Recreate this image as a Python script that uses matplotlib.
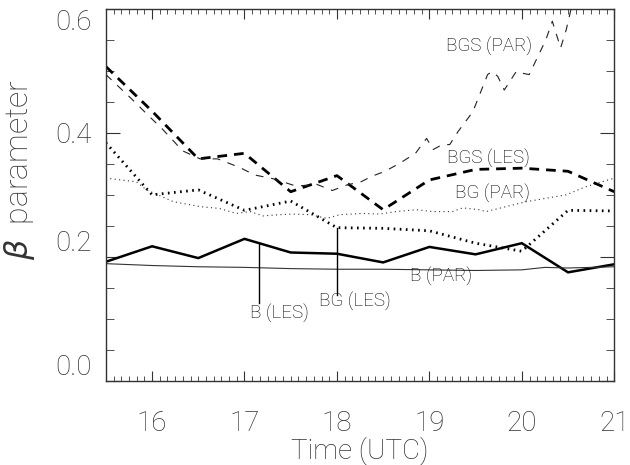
import matplotlib
matplotlib.use('Agg')
import matplotlib.pyplot as plt
import numpy as np
from matplotlib.ticker import MultipleLocator

plt.rcParams['font.family'] = ['Roboto', 'DejaVu Sans']
plt.rcParams['font.weight'] = 'light'
plt.rcParams['axes.labelweight'] = 'light'
plt.rcParams['mathtext.fontset'] = 'custom'
plt.rcParams['mathtext.it'] = 'DejaVu Sans:italic:light'

# LES values every half hour
t_les = [15.5, 16.0, 16.5, 17.0, 17.5, 18.0, 18.5, 19.0, 19.5, 20.0, 20.5, 21.0]
b_les = [0.192, 0.217, 0.198, 0.229, 0.207, 0.205, 0.191, 0.216, 0.204, 0.222, 0.175, 0.188]
bg_les = [0.384, 0.300, 0.308, 0.275, 0.290, 0.247, 0.246, 0.242, 0.222, 0.209, 0.275, 0.274]
bgs_les = [0.507, 0.435, 0.358, 0.367, 0.305, 0.331, 0.276, 0.324, 0.341, 0.343, 0.338, 0.305]

# parameterisation
t_b_par = [15.5, 16.0, 16.5, 17.0, 17.5, 18.0, 18.5, 19.0, 19.5, 20.0, 20.25, 20.5, 21.0]
b_par = [0.189, 0.186, 0.184, 0.183, 0.181, 0.180, 0.180, 0.179, 0.178, 0.179, 0.183, 0.182, 0.184]

t_bg_par = [15.5, 15.83, 15.94, 16.23, 16.52, 16.73, 16.91, 17.06, 17.20, 17.38, 17.52,
            17.71, 17.89, 18.03, 18.28, 18.46, 18.64, 18.86, 19.04, 19.25, 19.36, 19.54,
            19.61, 20.05, 20.48, 20.69, 21.0]
bg_par = [0.327, 0.321, 0.308, 0.289, 0.281, 0.278, 0.270, 0.273, 0.266, 0.268, 0.269,
          0.268, 0.262, 0.268, 0.270, 0.269, 0.273, 0.276, 0.273, 0.273, 0.279, 0.276,
          0.273, 0.289, 0.300, 0.313, 0.327]

t_bgs_par = [15.5, 15.77, 15.98, 16.10, 16.33, 16.52, 16.71, 16.95, 17.11, 17.31, 17.56,
             17.78, 17.95, 18.11, 18.26, 18.38, 18.52, 18.68, 18.85, 18.97, 19.04, 19.14,
             19.22, 19.31, 19.47, 19.63, 19.68, 19.74, 19.81, 19.94, 20.01, 20.08, 20.26,
             20.33, 20.42, 20.48, 20.53, 20.75, 21.0]
bgs_par = [0.494, 0.456, 0.425, 0.408, 0.371, 0.358, 0.358, 0.344, 0.332, 0.326, 0.314,
           0.317, 0.307, 0.316, 0.321, 0.330, 0.338, 0.351, 0.367, 0.391, 0.373, 0.381,
           0.381, 0.402, 0.434, 0.494, 0.499, 0.491, 0.469, 0.499, 0.496, 0.494, 0.550,
           0.580, 0.537, 0.566, 0.598, 0.68, 0.75]

fig = plt.figure(figsize=(6.3, 4.65), dpi=100)
ax = fig.add_axes([0.168, 0.181, 0.807, 0.800])

ax.plot(t_les, b_les, color='black', lw=1.8, solid_joinstyle='miter')
ax.plot(t_b_par, b_par, color='#333333', lw=0.8)
ax.plot(t_les, bg_les, color='black', lw=2.0, linestyle=(0, (0.6, 1.6)), dash_capstyle='butt')
ax.plot(t_bg_par, bg_par, color='#333333', lw=0.8, linestyle=(0, (1, 3)))
ax.plot(t_les, bgs_les, color='black', lw=2.0, linestyle=(0, (3.5, 2.5)))
ax.plot(t_bgs_par, bgs_par, color='#222222', lw=0.8, linestyle=(0, (7, 7)))

# annotations
fs = 13.5
txt = dict(fontsize=fs, ha='center', va='center', color='black')
ax.text(19.65, 0.539, 'BGS (PAR)', **txt)
ax.text(19.64, 0.358, 'BGS (LES)', **txt)
ax.text(19.68, 0.302, 'BG (PAR)', **txt)
ax.text(19.13, 0.168, 'B (PAR)', **txt)
ax.text(17.38, 0.108, 'B (LES)', **txt)
ax.text(18.19, 0.128, 'BG (LES)', **txt)
ax.plot([17.16, 17.16], [0.126, np.interp(17.16, t_les, b_les)], color='black', lw=1.0)
ax.plot([18.0, 18.0], [0.139, np.interp(18.0, t_les, bg_les)], color='black', lw=1.0)

ax.set_xlim(15.5, 21)
ax.set_ylim(0, 0.6)
ax.xaxis.set_major_locator(MultipleLocator(1))
ax.xaxis.set_minor_locator(MultipleLocator(1 / 12))
ax.yaxis.set_major_locator(MultipleLocator(0.2))
ax.yaxis.set_minor_locator(MultipleLocator(0.05))
ax.yaxis.set_major_formatter(plt.FormatStrFormatter('%.1f'))
ax.tick_params(which='both', direction='in', top=True, right=True, colors='#333333', labelsize=20)
ax.tick_params(axis='x', which='major', length=7, pad=21)
ax.tick_params(axis='x', which='minor', length=3.5)
ax.tick_params(axis='y', which='major', length=10, pad=10)
ax.tick_params(axis='y', which='minor', length=6)
for s in ax.spines.values():
    s.set_color('#333333')
    s.set_linewidth(1.0)

# y tick labels sit like the original: bottom ones raised, top one lowered
fig.canvas.draw()
yt = ax.yaxis.get_major_ticks()
for tk in yt:
    v = tk.get_loc()
    if v < 0.3:
        tk.label1.set_verticalalignment('bottom')
    elif v > 0.5:
        tk.label1.set_verticalalignment('top')

ax.set_xlabel('Time (UTC)', fontsize=20, color='#333333')
ax.set_ylabel(r'$\beta$  parameter', fontsize=23, color='#333333')
ax.xaxis.set_label_coords(0.50, -0.150)
ax.yaxis.set_label_coords(-0.135, 0.567)

plt.savefig('out.png', dpi=100)
